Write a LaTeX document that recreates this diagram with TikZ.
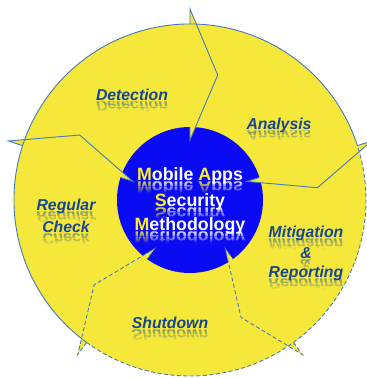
\documentclass[tikz,border=0pt]{standalone}
\usepackage{fontspec}
\setmainfont{Liberation Sans}

\definecolor{ringyellow}{RGB}{246,232,58}
\definecolor{coreblue}{RGB}{10,10,245}
\definecolor{edgeblue}{RGB}{70,120,190}
\definecolor{phaseblue}{RGB}{20,70,150}
\definecolor{capyellow}{RGB}{250,240,40}

\tikzset{
  rim/.style={draw=edgeblue, line width=0.9pt, line join=miter},
  rimdash/.style={rim, dash pattern=on 4pt off 2.5pt},
  phasetext/.style={font=\fontsize{15.8}{18}\selectfont\bfseries\itshape,
    text=phaseblue, inner sep=0pt},
  coretext/.style={font=\fontsize{17.8}{20}\selectfont\bfseries,
    text=white, inner sep=0pt},
}

% mirrored, fading copy of a line of text below its baseline
\newcommand\mirrorline[4]{%
  \begin{scope}[shift={(#1)}]
    \foreach \k in {0,...,9}{
      \pgfmathsetmacro\op{#4*(1-\k/10)}
      \begin{scope}
        \clip (-100,-1-1.2*\k) rectangle (100,-2.2-1.2*\k);
        \node[#2, yscale=-1, anchor=base, opacity=\op] at (0,-1) {#3};
      \end{scope}
    }
  \end{scope}}

\newcommand\Cap[1]{\textcolor{capyellow}{#1}}

\begin{document}
\begin{tikzpicture}[x=1pt,y=1pt]
  \useasboundingbox (-190,-178) rectangle (177,200);

  % ring and core
  \fill[ringyellow] (0,0) circle[radius=176];
  \fill[coreblue] (0,0) circle[radius=73];

  % arrow heads of the five ring segments
  \foreach \a in {90,18,-54,-126,162}{
    \pgfmathsetmacro\t{\a-12.5}
    \fill[ringyellow] (\a:176) -- (\a:191) -- (\t:128) -- (\a:60) -- (\a:73) -- cycle;
  }

  % outer rim: solid for the upper segments, dashed for the lower ones
  \draw[rim] (18:176) arc[start angle=18, end angle=234, radius=176];
  \draw[rimdash] (-126:176) arc[start angle=-126, end angle=18, radius=176];

  % segment boundaries
  \foreach \a in {90,18,162}{
    \pgfmathsetmacro\t{\a-12.5}
    \draw[rim] (\a:176) -- (\a:191) -- (\t:128) -- (\a:60) -- (\a:73);
  }
  \foreach \a in {-54,-126}{
    \pgfmathsetmacro\t{\a-12.5}
    \draw[rimdash] (\a:176) -- (\a:191) -- (\t:128) -- (\a:60) -- (\a:73);
  }

  % phase labels
  \mirrorline{-58,100}{phasetext}{Detection}{0.3}
  \node[phasetext, anchor=base] (detection) at (-58,100) {Detection};

  \mirrorline{89,71}{phasetext}{Analysis}{0.3}
  \node[phasetext, anchor=base] (analysis) at (89,71) {Analysis};

  \mirrorline{116,-37}{phasetext}{Mitigation}{0.3}
  \node[phasetext, anchor=base] (mitigation) at (116,-37) {Mitigation};
  \mirrorline{116,-58}{phasetext}{\&}{0.3}
  \node[phasetext, anchor=base] (amp) at (116,-58) {\&};
  \mirrorline{116,-77}{phasetext}{Reporting}{0.3}
  \node[phasetext, anchor=base] (reporting) at (116,-77) {Reporting};

  \mirrorline{-20,-128}{phasetext}{Shutdown}{0.3}
  \node[phasetext, anchor=base] (shutdown) at (-20,-128) {Shutdown};

  \mirrorline{-124,-10}{phasetext}{Regular}{0.3}
  \node[phasetext, anchor=base] (regular) at (-124,-10) {Regular};
  \mirrorline{-124,-32}{phasetext}{Check}{0.3}
  \node[phasetext, anchor=base] (check) at (-124,-32) {Check};

  % title in the core
  \mirrorline{0,20}{coretext}{\Cap{M}obile \Cap{A}pps}{0.6}
  \node[coretext, anchor=base] (title1) at (0,20) {\Cap{M}obile \Cap{A}pps};
  \mirrorline{0,-6}{coretext}{\Cap{S}ecurity}{0.6}
  \node[coretext, anchor=base] (title2) at (0,-6) {\Cap{S}ecurity};
  \mirrorline{0,-30}{coretext}{\Cap{M}ethodology}{0.6}
  \node[coretext, anchor=base] (title3) at (0,-30) {\Cap{M}ethodology};
\end{tikzpicture}
\end{document}
